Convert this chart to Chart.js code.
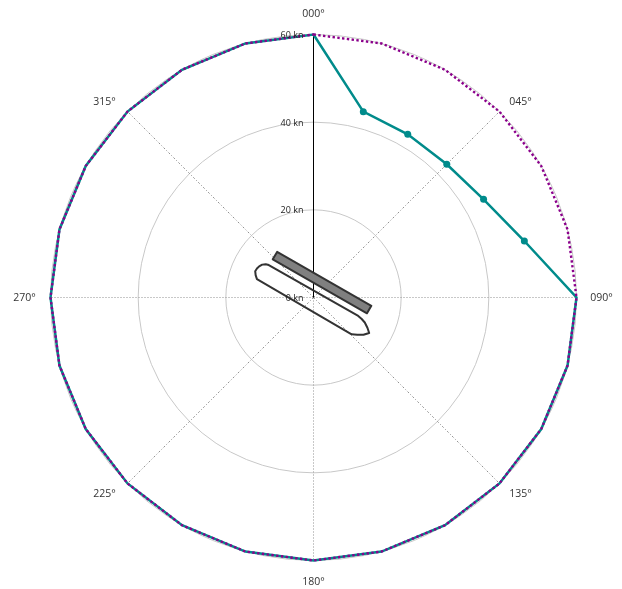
<!DOCTYPE html>
<html>
<head>
<meta charset="utf-8">
<title>Wind polar</title>
<script src="https://cdn.jsdelivr.net/npm/chart.js@4"></script>
<style>
  html, body { margin: 0; padding: 0; background: #fff; }
  canvas { display: block; }
</style>
</head>
<body>
<canvas id="polar" width="622" height="589"></canvas>
<script>
const bearings = ["000°", "015°", "030°", "045°", "060°", "075°", "090°", "105°", "120°", "135°", "150°", "165°",
  "180°", "195°", "210°", "225°", "240°", "255°", "270°", "285°", "300°", "315°", "330°", "345°"];
const shownBearings = ["000°", "045°", "090°", "135°", "180°", "225°", "270°", "315°"];

const maxWind = [60, 60, 60, 60, 60, 60, 60, 60, 60, 60, 60, 60, 60, 60, 60, 60, 60, 60, 60, 60, 60, 60, 60, 60];
const limitWind = [60, 43.9, 43, 43, 44.8, 49.8, 60, 60, 60, 60, 60, 60, 60, 60, 60, 60, 60, 60, 60, 60, 60, 60, 60, 60];

// ship and deck outlines, in knots east / north of the centre
const hullOutline = [[-13.2, 5.1], [-13.3, 6.0], [-12.9, 6.6], [-12.4, 7.1], [-11.7, 7.5], [-10.9, 7.6], [-10.2, 7.4],
  [10.2, -4.2], [11.0, -4.9], [11.7, -5.7], [12.3, -6.9], [12.7, -8.1], [11.4, -8.5], [10.0, -8.5], [8.7, -8.4], [-12.9, 4.2]];
const deckOutline = [[-8.3, 10.4], [13.2, -1.9], [12.2, -3.6], [-9.3, 8.7]];

const TEAL = "#008b8b";
const PURPLE = "#8b008b";

function outline(ctx, scale, pts) {
  const k = scale.getDistanceFromCenterForValue(1) - scale.getDistanceFromCenterForValue(0);
  ctx.beginPath();
  pts.forEach(([e, n], i) => {
    const x = scale.xCenter + e * k;
    const y = scale.yCenter - n * k;
    if (i === 0) ctx.moveTo(x, y); else ctx.lineTo(x, y);
  });
  ctx.closePath();
}

// how far each bearing label sits from its spoke end
function labelOffset(i) {
  if (i === 0) return [0, -20];
  if (i === 6) return [25, 1];
  if (i === 12) return [0, 22];
  if (i === 18) return [-26, 1];
  return [i < 12 ? 21 : -23, i > 6 && i < 18 ? 11 : -10];
}

const overlay = {
  id: "overlay",
  beforeDraw(chart) {
    // centre falls on a pixel middle, keeps the spokes crisp
    chart.ctx.save();
    chart.ctx.translate(-0.5, -0.5);
  },
  afterDatasetsDraw(chart) {
    const { ctx } = chart;
    const scale = chart.scales.r;
    ctx.save();
    ctx.lineJoin = "round";

    // ship
    outline(ctx, scale, deckOutline);
    ctx.fillStyle = "#808080";
    ctx.fill();
    ctx.strokeStyle = "#333";
    ctx.lineWidth = 2;
    ctx.stroke();
    outline(ctx, scale, hullOutline);
    ctx.stroke();

    // speed labels sit just left of the north line
    ctx.fillStyle = "#222";
    ctx.font = '9px "Open Sans"';
    ctx.textAlign = "right";
    ctx.textBaseline = "middle";
    scale.ticks.forEach(t => {
      const y = scale.yCenter - scale.getDistanceFromCenterForValue(t.value);
      ctx.fillText(t.value + " kn", scale.xCenter - 10, y + 1);
    });

    // bearing labels
    ctx.fillStyle = "#333";
    ctx.font = '10.5px "Open Sans"';
    ctx.textAlign = "center";
    shownBearings.forEach(b => {
      const i = bearings.indexOf(b);
      const p = scale.getPointPosition(i, scale.drawingArea);
      const [dx, dy] = labelOffset(i);
      ctx.fillText(b, p.x + dx, p.y + dy);
    });
    ctx.restore();
  },
  afterDraw(chart) {
    chart.ctx.restore();
  }
};

new Chart(document.getElementById("polar"), {
  type: "radar",
  data: {
    labels: bearings,
    datasets: [
      {
        label: "Max",
        data: maxWind,
        borderColor: PURPLE,
        borderWidth: 2.4,
        borderDash: [2.4, 2.4],
        fill: false,
        tension: 0,
        clip: false,
        pointRadius: 0,
      },
      {
        label: "Limit",
        data: limitWind,
        borderColor: TEAL,
        backgroundColor: TEAL,
        borderWidth: 2.5,
        fill: false,
        tension: 0,
        clip: false,
        pointBackgroundColor: TEAL,
        pointBorderWidth: 0,
        pointRadius: c => (c.raw < 60 ? 3.5 : 0),
      },
    ],
  },
  options: {
    responsive: false,
    animation: false,
    layout: { padding: { left: 51, right: 45, top: 35, bottom: 28 } },
    plugins: { legend: { display: false }, tooltip: { enabled: false } },
    scales: {
      r: {
        min: 0,
        max: 60,
        ticks: { stepSize: 20, display: false },
        grid: { circular: true, color: "#c8c8c8", lineWidth: 1 },
        pointLabels: { display: false },
        angleLines: {
          lineWidth: 1,
          color: c => (c.index === 0 ? "#000" : c.index % 3 === 0 ? "#909090" : "transparent"),
          borderDash: c => (c.index === 0 ? [] : c.index % 6 === 0 ? [1, 2] : [2, 2, 1, 2]),
        },
      },
    },
  },
  plugins: [overlay],
});
</script>
</body>
</html>
